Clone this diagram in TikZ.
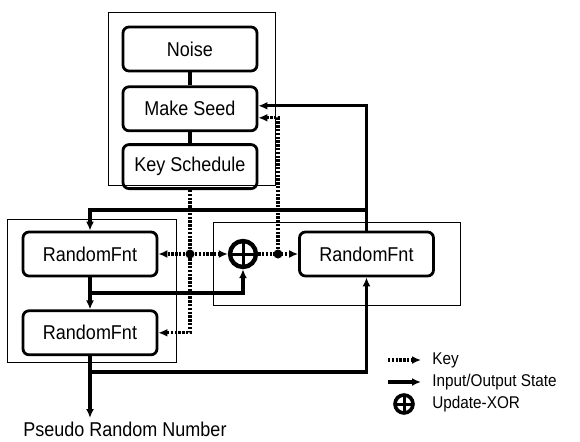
\documentclass[tikz,border=0pt]{standalone}
\usepackage{fontspec}
\setmainfont{Liberation Sans}[FakeStretch=0.9]
\usetikzlibrary{arrows.meta,positioning}

\begin{document}
\begin{tikzpicture}[
  x=0.5pt,y=-0.5pt,
  b/.style={draw,rounded corners=3pt,line width=1.4pt,align=center,
    font=\fontsize{10}{11}\selectfont,minimum width=67pt,minimum height=22pt,
    inner sep=0pt},
  fr/.style={draw,line width=0.5pt},
  s/.style={-{Latex[length=4.5pt,width=4pt]},line width=1.6pt},
  k/.style={-{Latex[length=4.5pt,width=4pt]},line width=1.6pt,
    dash pattern=on 1.2pt off 0.7pt},
  xr/.style={circle,draw,line width=2.2pt,minimum size=13pt,inner sep=0pt,
    path picture={\draw[line width=1.5pt]
      (path picture bounding box.north) -- (path picture bounding box.south)
      (path picture bounding box.west) -- (path picture bounding box.east);}},
  dot/.style={circle,fill,minimum size=4.5pt,inner sep=0pt},
  lbl/.style={font=\fontsize{8.5}{10}\selectfont,anchor=west,inner sep=0pt}
]
\useasboundingbox (0,0) rectangle (580,441);

% seed generation block
\draw[fr] (108,12) rectangle (275,185);
\node[b] (noise) at (190,49) {Noise};
\node[b,below=6.5pt of noise] (seed) {Make Seed};
\node[b,below=5.5pt of seed] (keysch) {Key Schedule};
\draw[line width=1.6pt] (noise) -- (seed);
\draw[line width=1.6pt] (seed) -- (keysch);

% random function blocks
\draw[fr] (7,219) rectangle (176,362);
\draw[fr] (213,222) rectangle (460,305);
\node[b] (rf1) at (90,254) {RandomFnt};
\node[b,below=16pt of rf1] (rf2) {RandomFnt};
\node[b] (rf3) at (366.5,254) {RandomFnt};
\node[xr] (xor) at (243,254) {};

\coordinate (seedin) at ([yshift=1.5pt]seed.east);
\coordinate (seedkey) at ([yshift=-4.5pt]seed.east);
\coordinate (tap1) at (366.5,210);
\coordinate (tap2) at (90,293);
\coordinate (tap3) at (90,372);
\coordinate (outend) at (90,418);

% input/output state
\draw[s] (rf3.north) |- (seedin);
\draw[s] (tap1) -| (rf1.north);
\draw[s] (rf1) -- (rf2);
\draw[s] (tap2) -| (xor.south);
\draw[s] (rf2) -- (outend);
\draw[s] (tap3) -| (rf3.south);
\node[lbl,font=\fontsize{10}{11}\selectfont,anchor=center] (prn) at (125,429)
  {Pseudo\ Random\ Number};

% key
\node[dot] (kd1) at (190,254) {};
\node[dot] (kd2) at (278,254) {};
\draw[k] (keysch.south) |- (rf2.east);
\draw[k] (kd1) -- (rf1.east);
\draw[k] (kd1) -- (xor.west);
\draw[k] (xor) -- (rf3);
\draw[k] (kd2) |- (seedkey);

% legend
\coordinate (lk0) at (388,360);
\coordinate (lk1) at (421,360);
\coordinate (ls0) at (388,382);
\coordinate (ls1) at (421,382);
\draw[k] (lk0) -- (lk1);
\draw[s] (ls0) -- (ls1);
\node[xr,minimum size=9pt,line width=1.8pt] (lx) at (404,404) {};
\node[lbl] (lkey) at (432,360) {Key};
\node[lbl] (lio) at (432,382) {Input/Output\ State};
\node[lbl] (lxor) at (432,404) {Update-XOR};
\end{tikzpicture}
\end{document}
